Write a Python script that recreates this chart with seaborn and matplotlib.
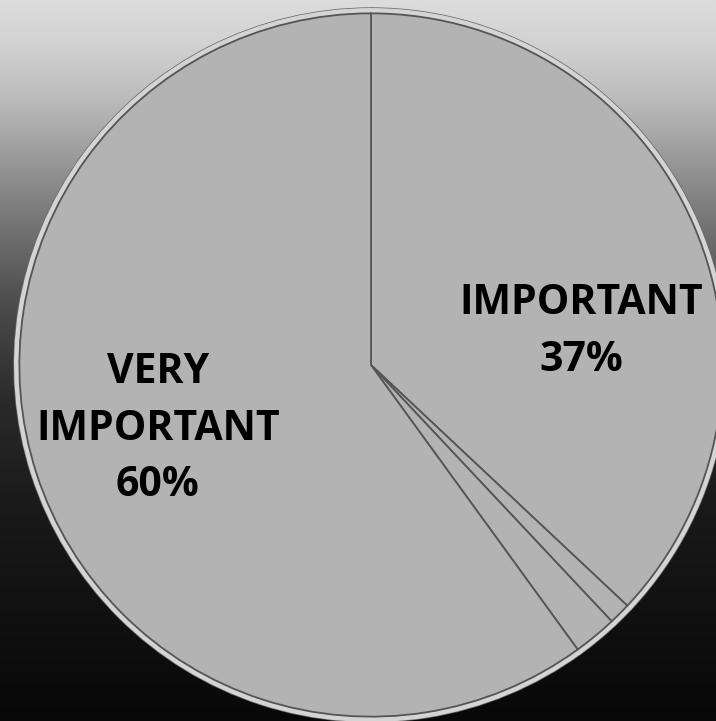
import numpy as np
import seaborn as sns
import matplotlib.pyplot as plt
from matplotlib.colors import LinearSegmentedColormap

# data (clockwise from 12 o'clock)
categories = ["IMPORTANT", "", "", "VERY\nIMPORTANT"]
shares = [37, 1, 2, 60]
shown = [True, False, False, True]

sns.set_theme(style="white")
plt.rcParams['font.family'] = ['Open Sans', 'DejaVu Sans']

fig = plt.figure(figsize=(7.16, 7.21), dpi=100)
ax = fig.add_axes([0, 0, 1, 1])

# vertical grey-to-black backdrop
bg = LinearSegmentedColormap.from_list(
    "bg", [(0.0, "#dcdcdc"), (0.06, "#d2d2d2"), (0.14, "#bababa"),
           (0.28, "#808080"), (0.42, "#4c4c4c"), (0.56, "#2a2a2a"),
           (0.70, "#1a1a1a"), (1.0, "#080808")])
grad = np.linspace(0, 1, 256).reshape(-1, 1)
x0, x1 = -371 / 357, (716 - 371) / 357
y0, y1 = -(721 - 365) / 357, 365 / 357
ax.imshow(grad, cmap=bg, aspect="auto", extent=(x0, x1, y0, y1),
          origin="upper", zorder=0)

# slices with a thin dark outline and a soft light bevel inside the rim
ax.pie(shares, startangle=90, counterclock=False, radius=1.0,
       colors=["#b3b3b3"] * len(shares),
       wedgeprops={"edgecolor": "#6a6a6a", "linewidth": 1.0})
ax.pie(shares, startangle=90, counterclock=False, radius=0.993,
       colors=["none"] * len(shares),
       wedgeprops={"edgecolor": "#d4d4d4", "linewidth": 3.5})
ax.pie(shares, startangle=90, counterclock=False, radius=0.985,
       colors=["#b3b3b3"] * len(shares),
       wedgeprops={"edgecolor": "#555555", "linewidth": 1.3})

label_pos = [(0.588, 0.093), None, None, (-0.597, -0.180)]
for cat, val, show, pos in zip(categories, shares, shown, label_pos):
    if show:
        ax.text(pos[0], pos[1], f"{cat}\n{val}%", ha="center", va="center",
                fontsize=29.5, fontweight="bold", color="black",
                linespacing=1.5, zorder=5)

ax.set_xlim(x0, x1)
ax.set_ylim(y0, y1)
ax.set_aspect("auto")
ax.axis("off")

fig.savefig("out.png", dpi=100)
